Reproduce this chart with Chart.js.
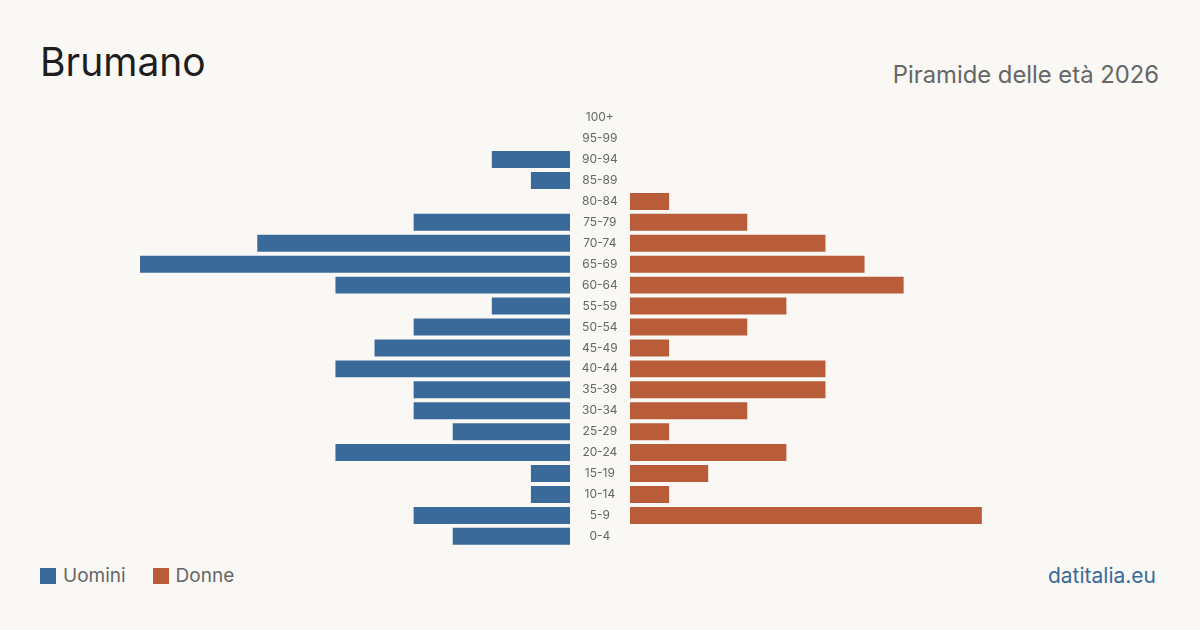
<!DOCTYPE html>
<html>
<head>
<meta charset="utf-8">
<script src="https://cdn.jsdelivr.net/npm/chart.js@4"></script>
<style>
  html, body { margin: 0; padding: 0; }
  body { width: 1200px; height: 630px; background: #f9f8f4; position: relative; overflow: hidden; font-family: Inter, "Noto Sans", sans-serif; }
  .title { position: absolute; left: 40px; top: 42px; font-size: 39px; color: #1e1e1e; line-height: 1; }
  .subtitle { position: absolute; right: 41px; top: 63px; font-size: 23.8px; color: #666; line-height: 1; }
  .legend { position: absolute; left: 40px; top: 566px; font-size: 19px; color: #666; line-height: 20px; }
  .legend span.sw { display: inline-block; width: 16px; height: 16px; vertical-align: -2px; margin-right: 7px; }
  .legend span.item { margin-right: 27px; }
  .source { position: absolute; right: 44px; top: 565px; font-size: 21px; color: #3a6a9a; line-height: 1; }
  #men { position: absolute; left: 140px; top: 96px; }
  #women { position: absolute; left: 570px; top: 96px; }
</style>
</head>
<body>
<div class="title">Brumano</div>
<div class="subtitle">Piramide delle età 2026</div>
<div class="legend"><span class="item"><span class="sw" style="background:#3a6a9a"></span>Uomini</span><span class="item"><span class="sw" style="background:#b95c3a"></span>Donne</span></div>
<div class="source">datitalia.eu</div>
<canvas id="men" width="430" height="462"></canvas>
<canvas id="women" width="490" height="462"></canvas>
<script>
var ageGroups = ['100+', '95-99', '90-94', '85-89', '80-84', '75-79', '70-74', '65-69', '60-64', '55-59', '50-54',
                 '45-49', '40-44', '35-39', '30-34', '25-29', '20-24', '15-19', '10-14', '5-9', '0-4'];
var uomini = [0, 0, 2, 1, 0, 4, 8, 11, 6, 2, 4, 5, 6, 4, 4, 3, 6, 1, 1, 4, 3];
var donne  = [0, 0, 0, 0, 1, 3, 5, 6, 7, 4, 3, 1, 5, 5, 3, 1, 4, 2, 1, 9, 0];
var scaleMax = 11;

var blue = '#3a6a9a';
var orange = '#b95c3a';

function baseOptions() {
    return {
        indexAxis: 'y',
        responsive: false,
        animation: false,
        layout: { padding: 0 },
        plugins: { legend: { display: false }, tooltip: { enabled: false } },
        scales: {}
    };
}

var tickFont = { family: 'Inter', size: 12 };

// Uomini (sinistra) - asse y invisibile per avere la stessa geometria verticale
var optMen = baseOptions();
optMen.scales = {
    x: { display: false, min: 0, max: scaleMax, reverse: true },
    y: {
        position: 'right',
        grid: { display: false },
        border: { display: false },
        afterFit: function(scale) { scale.width = 0; },
        ticks: { color: 'rgba(0,0,0,0)', padding: 4, font: tickFont }
    }
};
new Chart(document.getElementById('men').getContext('2d'), {
    type: 'bar',
    data: {
        labels: ageGroups,
        datasets: [{ label: 'Uomini', data: uomini, backgroundColor: blue, barPercentage: 1, categoryPercentage: 0.81 }]
    },
    options: optMen
});

// Donne (destra) con etichette delle classi al centro
var optWomen = baseOptions();
optWomen.scales = {
    x: { display: false, min: 0, max: scaleMax },
    y: {
        position: 'left',
        grid: { display: false },
        border: { display: false },
        afterFit: function(scale) { scale.width = 60; },
        ticks: {
            crossAlign: 'center',
            padding: 4,
            color: '#666',
            font: tickFont
        }
    }
};
new Chart(document.getElementById('women').getContext('2d'), {
    type: 'bar',
    data: {
        labels: ageGroups,
        datasets: [{ label: 'Donne', data: donne, backgroundColor: orange, barPercentage: 1, categoryPercentage: 0.81 }]
    },
    options: optWomen
});
</script>
</body>
</html>
